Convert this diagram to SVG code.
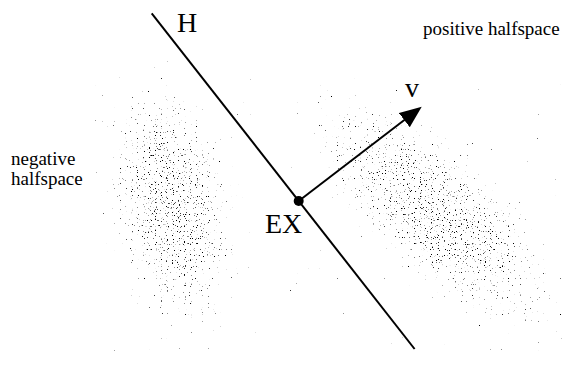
<svg xmlns="http://www.w3.org/2000/svg" width="565" height="373" viewBox="0 0 565 373">
<style>
  .lbl{font-family:"Liberation Serif","Times New Roman",serif;fill:#000}
  .big{font-size:28px}
  .small{font-size:19px}
  .ln{stroke:#000;stroke-width:2;fill:none}
</style>
<defs>
  <radialGradient id="gL" gradientUnits="userSpaceOnUse" cx="0" cy="0" r="1" gradientTransform="translate(172 205) rotate(-10) scale(74 148)">
    <stop offset="0" stop-color="#000" stop-opacity="1"/>
    <stop offset="0.4" stop-color="#000" stop-opacity="0.85"/>
    <stop offset="0.7" stop-color="#000" stop-opacity="0.5"/>
    <stop offset="1" stop-color="#000" stop-opacity="0"/>
  </radialGradient>
  <radialGradient id="gR" gradientUnits="userSpaceOnUse" cx="0" cy="0" r="1" gradientTransform="translate(434 211) rotate(42) scale(185 76)">
    <stop offset="0" stop-color="#000" stop-opacity="1"/>
    <stop offset="0.4" stop-color="#000" stop-opacity="0.85"/>
    <stop offset="0.7" stop-color="#000" stop-opacity="0.5"/>
    <stop offset="1" stop-color="#000" stop-opacity="0"/>
  </radialGradient>
  <filter id="speck" x="0" y="0" width="1" height="1" color-interpolation-filters="sRGB">
    <feTurbulence type="fractalNoise" baseFrequency="0.83" numOctaves="1" seed="7" result="n"/>
    <feColorMatrix in="n" type="matrix" values="0 0 0 0 0  0 0 0 0 0  0 0 0 0 0  1 0 0 0 0" result="na"/>
    <feComposite in="na" in2="SourceAlpha" operator="arithmetic" k1="0" k2="1" k3="0.16" k4="-0.30" result="s"/>
    <feComponentTransfer in="s">
      <feFuncA type="linear" slope="12" intercept="-5.75"/>
    </feComponentTransfer>
  </filter>
  <marker id="ah" markerUnits="userSpaceOnUse" viewBox="0 0 22 18" markerWidth="22" markerHeight="18" refX="12" refY="9" orient="auto">
    <path d="M0,0 L22,9 L0,18 z" fill="#000"/>
  </marker>
</defs>

<g id="cloud-negative">
  <rect x="95" y="55" width="165" height="305" fill="url(#gL)" filter="url(#speck)"/>
</g>
<g id="cloud-positive">
  <rect x="290" y="75" width="275" height="285" fill="url(#gR)" filter="url(#speck)"/>
</g>

<g id="connectors">
  <line id="hyperplane-H" class="ln" x1="151.7" y1="13.3" x2="414.6" y2="349"/>
  <line id="vector-v" class="ln" x1="298.7" y1="201" x2="413.8" y2="112.8" marker-end="url(#ah)"/>
</g>

<g id="node-EX">
  <circle cx="298.7" cy="201" r="5" fill="#000"/>
  <text class="lbl big" x="265" y="233">EX</text>
</g>
<g id="label-H">
  <text class="lbl big" x="177" y="32">H</text>
</g>
<g id="label-v">
  <text class="lbl big" x="405" y="97">v</text>
</g>
<g id="label-positive">
  <text class="lbl small" x="423" y="35">positive halfspace</text>
</g>
<g id="label-negative">
  <text class="lbl small" x="11" y="165">negative</text>
  <text class="lbl small" x="11" y="185">halfspace</text>
</g>
</svg>
